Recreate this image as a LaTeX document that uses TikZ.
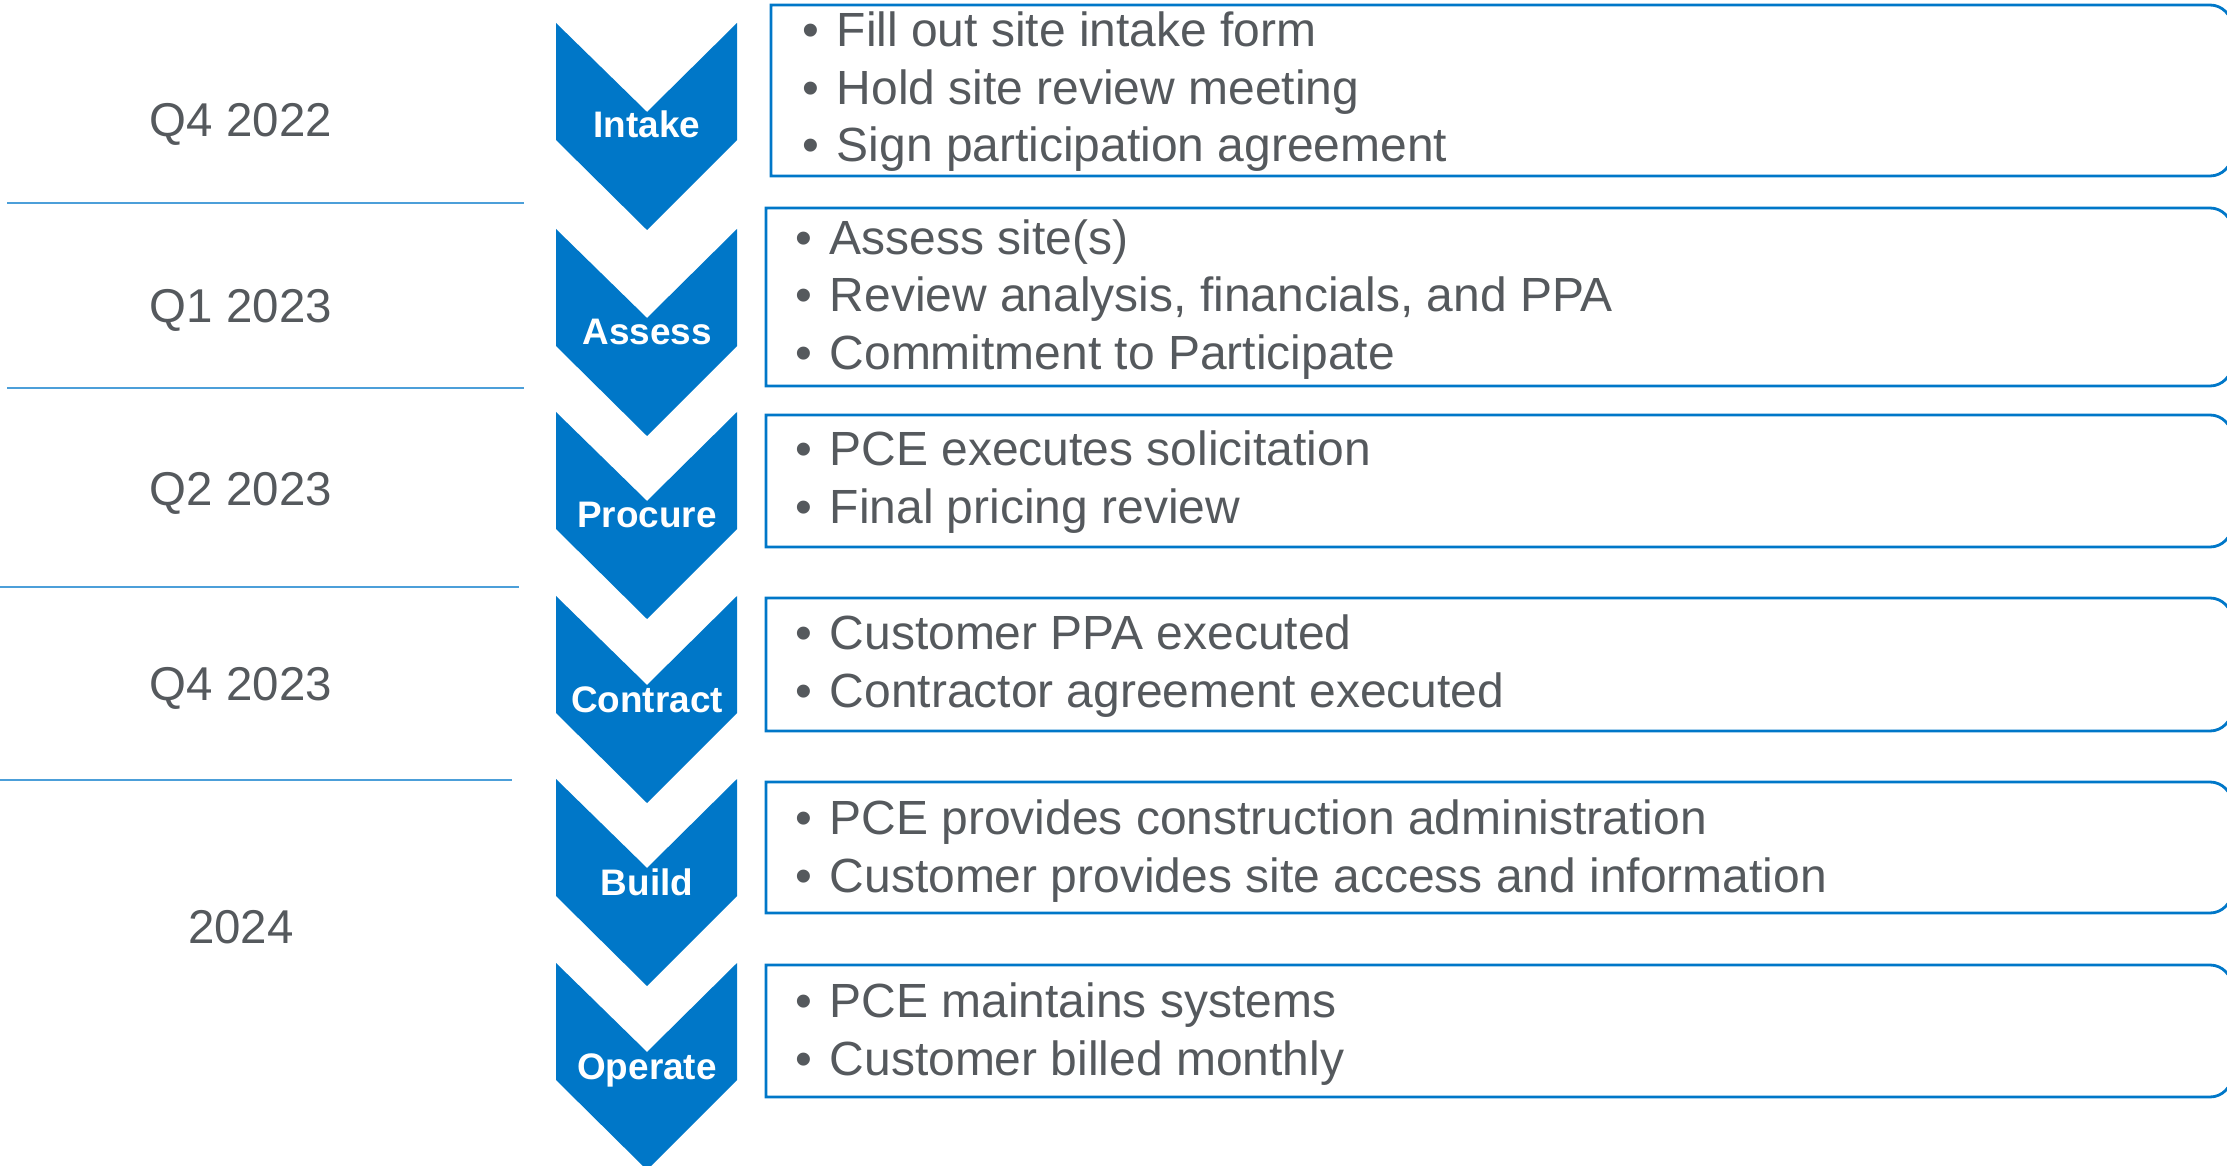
\documentclass[tikz,border=0pt]{standalone}
\usepackage{fontspec}
\setmainfont{Liberation Sans}
\definecolor{pceblue}{HTML}{0077C8}
\definecolor{rowline}{HTML}{4C9FD9}
\definecolor{txtgray}{HTML}{55595D}
% #1 = top of the chevron
\newcommand{\chevshape}[1]{%
  \fill[pceblue] (556,#1) -- (647,{#1+89}) -- (737,#1) -- (737,{#1+117}) -- (647,{#1+207}) -- (556,{#1+117}) -- cycle;}
% #1 = left, #2 = top, #3 = bottom
\newcommand{\itembox}[3]{%
  \draw[pceblue, line width=0.8pt] (#1,#3) -- (#1,#2) -- (2210,#2) .. controls (2222,#2) and (2232,{#2+10}) .. (2232,{#2+22})
     -- (2232,{#3-22}) .. controls (2232,{#3-10}) and (2222,#3) .. (2210,#3) -- cycle;}

\begin{document}
\begin{tikzpicture}[x=0.1mm, y=-0.1mm,
    quarter/.style={font=\fontsize{13.5}{16}\selectfont, text=txtgray, anchor=base, inner sep=0pt},
    phase/.style={font=\fontsize{10.5}{12}\selectfont\bfseries, text=white, anchor=base, inner sep=0pt},
    item/.style={font=\fontsize{13.65}{16}\selectfont, text=txtgray, anchor=base west, inner sep=0pt,
                 execute at begin node={\makebox[3.4mm][l]{\textbullet}}}]
    \useasboundingbox (0,0) rectangle (2227,1166);

        % time column
        \node[quarter] (q1) at (241,137) {Q4 2022};
        \node[quarter] (q2) at (241,323) {Q1 2023};
        \node[quarter] (q3) at (241,506) {Q2 2023};
        \node[quarter] (q4) at (241,700) {Q4 2023};
        \node[quarter] (q5) at (241,943) {2024};
        \draw[rowline, line width=0.6pt] (7,203) -- (524,203);
        \draw[rowline, line width=0.6pt] (7,388) -- (524,388);
        \draw[rowline, line width=0.6pt] (0,587) -- (519,587);
        \draw[rowline, line width=0.6pt] (0,780) -- (512,780);

        % chevrons
        \chevshape{23}
        \chevshape{229}
        \chevshape{412}
        \chevshape{596}
        \chevshape{779}
        \chevshape{963}
        \node[phase] (intake) at (647,138) {Intake};
        \node[phase] (assess) at (647,345) {Assess};
        \node[phase] (procure) at (647,528) {Procure};
        \node[phase] (contract) at (647,712) {Contract};
        \node[phase] (build) at (647,895) {Build};
        \node[phase] (operate) at (647,1079) {Operate};

        % boxes
        \itembox{771}{5}{176}
        \itembox{766}{208}{386}
        \itembox{766}{415}{547}
        \itembox{766}{598}{731}
        \itembox{766}{782}{913}
        \itembox{766}{965}{1097}

        \node[item] (i11) at (802,47) {Fill out site intake form};
        \node[item] (i12) at (802,105) {Hold site review meeting};
        \node[item] (i13) at (802,162) {Sign participation agreement};
        \node[item] (i21) at (795,255) {Assess site(s)};
        \node[item] (i22) at (795,312) {Review analysis, financials, and PPA};
        \node[item] (i23) at (795,370) {Commitment to Participate};
        \node[item] (i31) at (795,466) {PCE executes solicitation};
        \node[item] (i32) at (795,524) {Final pricing review};
        \node[item] (i41) at (795,649) {Customer PPA executed};
        \node[item] (i42) at (795,707) {Contractor agreement executed};
        \node[item] (i51) at (795,834) {PCE provides construction administration};
        \node[item] (i52) at (795,892) {Customer provides site access and information};
        \node[item] (i61) at (795,1017) {PCE maintains systems};
        \node[item] (i62) at (795,1075) {Customer billed monthly};
%        \node[quarter] at (241,1100) {2025};

\end{tikzpicture}
\end{document}
